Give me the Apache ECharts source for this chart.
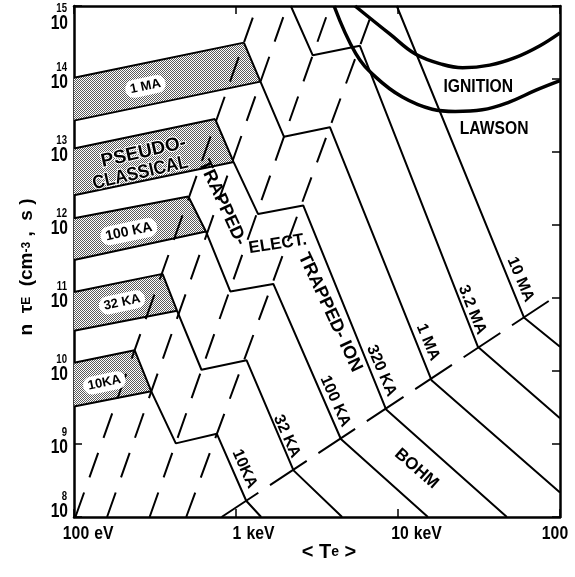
<!DOCTYPE html>
<html><head><meta charset="utf-8">
<script src="https://cdn.jsdelivr.net/npm/echarts@6/dist/echarts.min.js"></script>
<style>html,body{margin:0;padding:0;background:#fff}#c{width:575px;height:577px}</style>
</head><body><div id="c"></div>
<script>
// ---------------- DATA (T in keV, n*tau in cm^-3 s) ----------------
const xTicks = [0.1, 1, 10, 100];
const xTickNumbers = ['100', '1', '10', '100'];
const xTickUnits = ['eV', 'keV', 'keV', ''];
const yTickExponents = [8, 9, 10, 11, 12, 13, 14, 15];

// pseudo-classical bands (upper & lower edges) and full confinement curves per current
const band10kA_top = [[0.1, 1.30e10], [0.237, 1.92e10]];
const band10kA_bottom = [[0.1, 3.27e9], [0.300, 5.27e9]];
const curve10kA = [[0.237, 1.92e10], [0.300, 5.27e9], [0.425, 1.02e9], [0.762, 1.38e9], [1.156, 1.67e8], [1.43, 1e8]];

const band32kA_top = [[0.1, 1.21e11], [0.352, 2.14e11]];
const band32kA_bottom = [[0.1, 3.56e10], [0.433, 6.67e10]];
const curve32kA = [[0.352, 2.14e11], [0.433, 6.67e10], [0.612, 1.04e10], [1.163, 1.40e10], [2.265, 4.35e8], [4.52, 1e8]];

const band100kA_top = [[0.1, 1.24e12], [0.508, 2.46e12]];
const band100kA_bottom = [[0.1, 3.31e11], [0.652, 8.15e11]];
const curve100kA = [[0.508, 2.46e12], [0.652, 8.15e11], [0.922, 1.23e11], [1.70, 1.56e11], [4.44, 1.17e9], [15.3, 1e8]];

const band320kA_top = [[0.1, 1.12e13], [0.743, 2.83e13]];
const band320kA_bottom = [[0.1, 2.55e12], [0.967, 7.28e12]];
const curve320kA = [[0.743, 2.83e13], [0.967, 7.28e12], [1.369, 1.41e12], [2.60, 1.85e12], [8.45, 2.96e9], [47.0, 1e8]];

const band1MA_top = [[0.1, 1.04e14], [1.119, 3.15e14]];
const band1MA_bottom = [[0.1, 2.69e13], [1.416, 9.20e13]];
const curve1MA = [[1.119, 3.15e14], [1.416, 9.20e13], [1.976, 1.62e13], [3.80, 2.19e13], [16.1, 7.48e9], [100, 2.17e8]];

const curve3_2MA = [[2.18, 1e15], [2.978, 2.11e14], [5.82, 2.85e14], [31.1, 2.15e10], [100, 2.26e9]];
const curve10MA = [[9.83, 1e15], [59.9, 5.42e10], [100, 2.15e10]];

// regime boundaries (dashed)
const boundaryPseudoTop = [[0.102, 1e8], [1.346, 1e15]];
const boundaryPseudoBottom = [[0.160, 1e8], [2.07, 1e15]];
const boundaryElectronMin = [[0.293, 1e8], [3.81, 1e15]];
const boundaryElectronMax = [[0.493, 1e8], [7.17, 1e15]];
const boundaryBohm = [[0.815, 1e8], [100, 1.15e11]];

// ignition & Lawson criteria
const ignition = [[5.43, 1e15], [8.93, 4.11e14], [12.88, 2.18e14], [18.88, 1.58e14], [25.06, 1.43e14], [36.81, 1.55e14], [53.3, 1.98e14], [75.2, 2.86e14], [100, 4.29e14]];
const lawson = [[4.03, 1e15], [5.49, 2.22e14], [7.26, 1.07e14], [10.64, 5.66e13], [16.26, 3.85e13], [22.54, 3.59e13], [33.11, 3.78e13], [48.6, 4.83e13], [70.5, 6.97e13], [100, 9.48e13]];

// ---------------- CHART ----------------
const FONT = "'Liberation Sans', Arial, sans-serif";
const chart = echarts.init(document.getElementById('c'), null, {renderer: 'canvas'});

function makeStipple() {
  const c = document.createElement('canvas'); c.width = 2; c.height = 2;
  const g = c.getContext('2d'); g.fillStyle = '#fff'; g.fillRect(0, 0, 2, 2);
  g.fillStyle = '#5a5a5a';
  g.fillRect(0, 0, 1, 1); g.fillRect(1, 1, 1, 1);
  return c;
}
const stipple = {image: makeStipple(), repeat: 'repeat'};

const bandPairs = [
  [band10kA_top, band10kA_bottom], [band32kA_top, band32kA_bottom], [band100kA_top, band100kA_bottom],
  [band320kA_top, band320kA_bottom], [band1MA_top, band1MA_bottom]
];
const solidLines = [band10kA_top, band10kA_bottom, band32kA_top, band32kA_bottom, band100kA_top, band100kA_bottom,
  band320kA_top, band320kA_bottom, band1MA_top, band1MA_bottom,
  curve10kA, curve32kA, curve100kA, curve320kA, curve1MA, curve3_2MA, curve10MA];
const steepDashed = [boundaryPseudoTop, boundaryPseudoBottom, boundaryElectronMin, boundaryElectronMax];

const axisCommon = (pos, min, max, split) => ({
  type: 'log', logBase: 10, min, max, splitNumber: split, position: pos,
  axisLine: {show: true, onZero: false, lineStyle: {color: '#000', width: 2.5}},
  axisTick: {show: true, inside: true, length: 8, lineStyle: {color: '#000', width: 1.5}},
  minorTick: {show: false}, axisLabel: {show: false}, splitLine: {show: false}
});

const series = [];
series.push({
  type: 'custom', coordinateSystem: 'cartesian2d', silent: true, z: 1,
  data: bandPairs.map(b => b[0][0]), encode: {x: 0, y: 1},
  renderItem: (params, api) => {
    const [t, b] = bandPairs[params.dataIndex];
    const pts = [t[0], t[1], b[1], b[0]].map(p => api.coord(p));
    return {type: 'polygon', shape: {points: pts}, style: {fill: stipple, stroke: null}};
  }
});
solidLines.forEach(d => series.push({type: 'line', data: d, symbol: 'none', silent: true, z: 3,
  lineStyle: {color: '#000', width: 2}, animation: false}));
steepDashed.forEach(d => series.push({type: 'line', data: d, symbol: 'none', silent: true, z: 2,
  lineStyle: {color: '#000', width: 2, type: [26, 16]}, animation: false}));
series.push({type: 'line', data: boundaryBohm, symbol: 'none', silent: true, z: 2,
  lineStyle: {color: '#000', width: 2, type: [44, 14]}, animation: false});
[ignition, lawson].forEach(d => series.push({type: 'line', data: d, symbol: 'none', smooth: 0.4, silent: true, z: 4,
  lineStyle: {color: '#000', width: 3.5}, animation: false}));

chart.setOption({
  animation: false,
  backgroundColor: '#fff',
  grid: {left: 74, top: 6, width: 486, height: 511, containLabel: false},
  xAxis: [axisCommon('bottom', 0.1, 100, 3), axisCommon('top', 0.1, 100, 3)],
  yAxis: [axisCommon('left', 1e8, 1e15, 7), axisCommon('right', 1e8, 1e15, 7)],
  series
});

// ---------------- TEXT (placed through the axes' scales) ----------------
const P = (x, y) => chart.convertToPixel({xAxisIndex: 0, yAxisIndex: 0}, [x, y]);
const rad = d => d * Math.PI / 180;
function txt(text, x, y, o) {
  o = o || {};
  return {type: 'text', x, y, rotation: rad(o.rot || 0), scaleX: o.sx || 1, z: 100, silent: true,
    style: Object.assign({text, font: o.font || ('bold 16px ' + FONT), fill: '#000',
      align: o.align || 'center', verticalAlign: o.va || 'middle'}, o.extra || {})};
}
const g = [];

// y tick labels 10^k
yTickExponents.forEach(k => {
  const [ax, py] = P(0.1, Math.pow(10, k));
  let cy = py + 3;
  if (k === 15) cy = py + 17;
  if (k === 8) cy = py - 6;
  g.push(txt('10', ax - 6, cy, {font: 'bold 20px ' + FONT, sx: 0.78, align: 'right'}));
  g.push(txt(String(k), ax - 7, cy - 14, {font: 'bold 12px ' + FONT, sx: 0.8, align: 'right'}));
});
// x tick labels
const xNumOffset = [2, 1, 2, -5];
xTicks.forEach((v, i) => {
  const [px, by] = P(v, 1e8);
  const cx = px + xNumOffset[i];
  const fs = 19, sx = 0.83;
  g.push(txt(xTickNumbers[i], cx, by + 17, {font: 'bold ' + fs + 'px ' + FONT, sx}));
  if (xTickUnits[i]) {
    const w = xTickNumbers[i].length * 0.556 * fs * sx;
    g.push(txt(xTickUnits[i], cx + w / 2 + 5, by + 17, {font: 'bold ' + fs + 'px ' + FONT, sx, align: 'left'}));
  }
});
// axis titles
g.push({type: 'text', x: 27, y: 267, rotation: Math.PI / 2, z: 100, silent: true, style: {
  text: '{a|n  τ}{s|E}{a|  (cm}{p|-3}{a| ,  s )}', align: 'center', verticalAlign: 'middle',
  rich: {a: {font: 'bold 19px ' + FONT, height: 26, verticalAlign: 'middle'},
         s: {font: 'bold 12px ' + FONT, height: 26, verticalAlign: 'bottom'},
         p: {font: 'bold 12px ' + FONT, height: 26, verticalAlign: 'top'}}}});
g.push({type: 'text', x: 329, y: 552, z: 100, silent: true, style: {
  text: '{a|< T}{s|e}{a| >}', align: 'center', verticalAlign: 'middle',
  rich: {a: {font: 'bold 20px ' + FONT, height: 24, verticalAlign: 'middle'},
         s: {font: 'bold 14px ' + FONT, height: 24, verticalAlign: 'bottom'}}}});

// labels along curves (anchor in data coords)
const curveLabels = [
  ['10KA', 1.128, 4.56e8, -66], ['32 KA', 2.06, 1.27e9, -66], ['100 KA', 4.10, 3.86e9, -66],
  ['320 KA', 7.91, 1.01e10, -67], ['1 MA', 15.3, 2.47e10, -67.5], ['3.2 MA', 28.7, 6.88e10, -68],
  ['10 MA', 57.0, 1.79e11, -67]
];
curveLabels.forEach(([t, x, y, r]) => { const [px, py] = P(x, y); g.push(txt(t, px, py, {rot: r})); });

const regimeLabels = [
  ['TRAPPED- ION', 3.81, 6.34e10, -65, 18, 1],
  ['TRAPPED-', 0.822, 2.02e12, -65, 18, 1],
  ['ELECT.', 1.81, 5.47e11, 9, 17, 1],
  ['BOHM', 13.0, 4.59e8, -41, 17, 1],
  ['IGNITION', 31.3, 7.80e13, 0, 18, 0.87],
  ['LAWSON', 39.2, 2.08e13, 0, 18, 0.87]
];
regimeLabels.forEach(([t, x, y, r, fs, sx]) => { const [px, py] = P(x, y);
  g.push(txt(t, px, py, {rot: r, sx, font: 'bold ' + fs + 'px ' + FONT})); });

[['PSEUDO-', 0.269, 9.95e12, 1], ['CLASSICAL', 0.257, 5.15e12, 0.9]].forEach(([t, x, y, sx]) => {
  const [px, py] = P(x, y);
  g.push(txt(t, px, py, {rot: 13, sx, font: 'bold 19px ' + FONT,
    extra: {stroke: '#fff', lineWidth: 2, strokeFirst: true}}));
});

const bandLabels = [['1 MA', 0.276, 7.91e13, 13], ['100 KA', 0.218, 8.09e11, 14], ['32 KA', 0.198, 8.71e10, 13], ['10KA', 0.154, 6.89e9, 13]];
bandLabels.forEach(([t, x, y, fs]) => { const [px, py] = P(x, y);
  g.push(txt(t, px, py, {rot: 12, font: 'bold ' + fs + 'px ' + FONT,
    extra: {backgroundColor: '#fff', padding: [3, 5, 2, 5], borderRadius: 9}})); });

chart.setOption({graphic: {elements: g}});
</script></body></html>
